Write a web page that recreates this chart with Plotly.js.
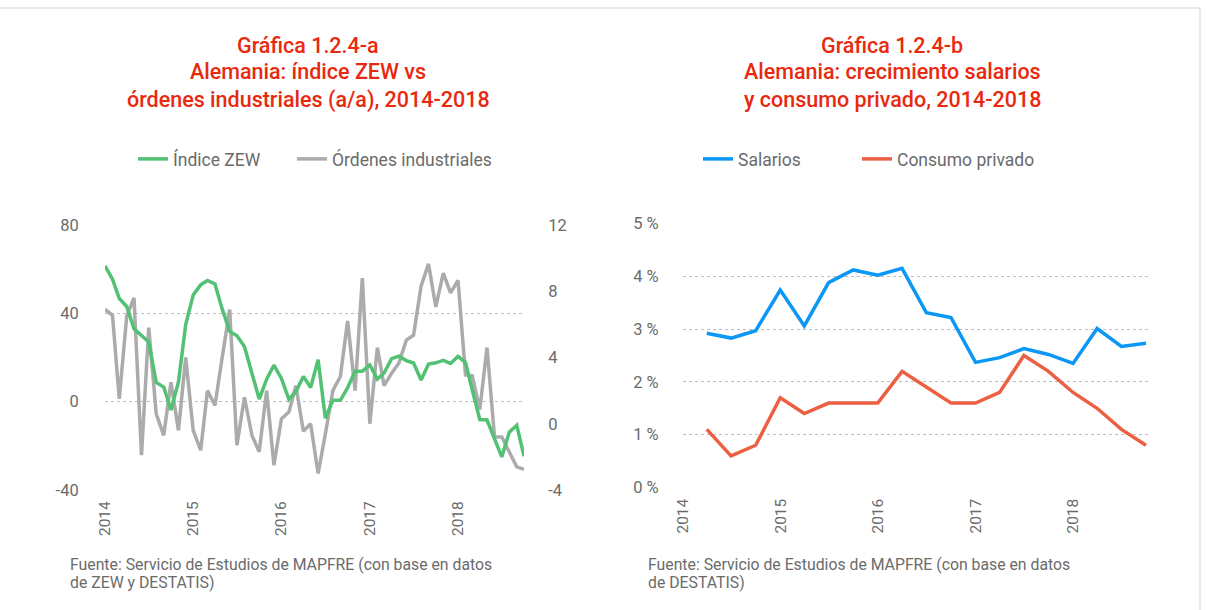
<!DOCTYPE html>
<html>
<head>
<meta charset="utf-8">
<script src="https://cdn.plot.ly/plotly-3.0.1.min.js"></script>
<style>
html,body{margin:0;padding:0;background:#fff;}
#chart{width:1206px;height:610px;}
</style>
</head>
<body>
<div id="chart"></div>
<script>
// ---- Data: Gráfica 1.2.4-a (monthly, Jan 2014 – Oct 2018) ----
const monthDates = [
 '2014-01-01','2014-02-01','2014-03-01','2014-04-01','2014-05-01','2014-06-01','2014-07-01','2014-08-01','2014-09-01','2014-10-01','2014-11-01','2014-12-01',
 '2015-01-01','2015-02-01','2015-03-01','2015-04-01','2015-05-01','2015-06-01','2015-07-01','2015-08-01','2015-09-01','2015-10-01','2015-11-01','2015-12-01',
 '2016-01-01','2016-02-01','2016-03-01','2016-04-01','2016-05-01','2016-06-01','2016-07-01','2016-08-01','2016-09-01','2016-10-01','2016-11-01','2016-12-01',
 '2017-01-01','2017-02-01','2017-03-01','2017-04-01','2017-05-01','2017-06-01','2017-07-01','2017-08-01','2017-09-01','2017-10-01','2017-11-01','2017-12-01',
 '2018-01-01','2018-02-01','2018-03-01','2018-04-01','2018-05-01','2018-06-01','2018-07-01','2018-08-01','2018-09-01','2018-10-01'
];
const indiceZEW = [
 61.5, 55.5, 46.7, 43.1, 33.0, 29.8, 27.1, 8.7, 6.6, -3.8, 8.9, 34.9,
 48.3, 52.9, 54.9, 53.3, 42.0, 31.8, 29.8, 25.0, 12.2, 1.2, 10.2, 16.5,
 10.5, 1.0, 4.6, 11.4, 6.4, 19.0, -7.5, 0.6, 0.6, 6.3, 13.8, 13.8,
 16.6, 10.2, 13.0, 19.5, 20.6, 18.6, 17.5, 9.8, 17.0, 17.6, 18.7, 17.3,
 20.5, 17.7, 5.3, -8.1, -8.3, -16.5, -25.0, -13.8, -10.7, -24.7
];
const ordenesIndustriales = [
 6.9, 6.55, 1.5, 6.5, 7.6, -1.9, 5.8, 0.6, -0.7, 2.5, -0.4, 4.0,
 -0.4, -1.6, 2.0, 1.1, 4.0, 6.9, -1.3, 1.6, -0.7, -1.7, 2.0, -2.5,
 0.3, 0.7, 2.3, -0.45, 0.0, -3.0, -0.6, 2.0, 2.85, 6.2, 2.0, 8.8,
 0.0, 4.6, 2.3, 3.05, 3.65, 5.05, 5.35, 8.3, 9.65, 7.05, 9.1, 7.9,
 8.65, 2.95, 2.9, 0.85, 4.6, -0.8, -0.8, -1.7, -2.6, -2.75
];
const yearTicks = ['2014-01-01','2015-01-01','2016-01-01','2017-01-01','2018-01-01'];
const yearLabels = ['2014','2015','2016','2017','2018'];
const zewTickVals = [-40, 0, 40, 80];
const zewTickText = ['-40', '0', '40', '80'];
const ordTickVals = [-4, 0, 4, 8, 12];
const ordTickText = ['-4', '0', '4', '8', '12'];

// ---- Data: Gráfica 1.2.4-b (quarterly, Q1 2014 – Q3 2018) ----
const quarterDates = [
 '2014-03-31','2014-06-30','2014-09-30','2014-12-31',
 '2015-03-31','2015-06-30','2015-09-30','2015-12-31',
 '2016-03-31','2016-06-30','2016-09-30','2016-12-31',
 '2017-03-31','2017-06-30','2017-09-30','2017-12-31',
 '2018-03-31','2018-06-30','2018-09-30'
];
const salarios = [2.92, 2.83, 2.97, 3.74, 3.06, 3.88, 4.12, 4.02, 4.15, 3.31, 3.22, 2.37, 2.46, 2.63, 2.52, 2.35, 3.01, 2.67, 2.73];
const consumoPrivado = [1.1, 0.6, 0.8, 1.7, 1.4, 1.6, 1.6, 1.6, 2.2, 1.9, 1.6, 1.6, 1.8, 2.5, 2.2, 1.8, 1.5, 1.1, 0.8];
const pctTickVals = [0, 1, 2, 3, 4, 5];
const pctTickText = ['0 %', '1 %', '2 %', '3 %', '4 %', '5 %'];

// ---- Texts ----
const titleA = ['Gráfica 1.2.4-a', 'Alemania: índice ZEW vs', 'órdenes industriales (a/a), 2014-2018'];
const titleB = ['Gráfica 1.2.4-b', 'Alemania: crecimiento salarios', 'y consumo privado, 2014-2018'];
const sourceA = ['Fuente: Servicio de Estudios de MAPFRE (con base en datos', 'de ZEW y DESTATIS)'];
const sourceB = ['Fuente: Servicio de Estudios de MAPFRE (con base en datos', 'de DESTATIS)'];

// ---- Styling helpers ----
const W = 1206, H = 610;
const px = v => v / W;
const py = v => 1 - v / H;
const FONT = 'Roboto, "Noto Sans", sans-serif';
const GREY_TXT = '#6b6b6b';
const RED = '#E8290F';

const traces = [
  { x: monthDates, y: ordenesIndustriales, name: 'Órdenes industriales', type: 'scatter', mode: 'lines',
    xaxis: 'x', yaxis: 'y', line: {color: '#ababab', width: 3.5}, legend: 'legend2' },
  { x: monthDates, y: indiceZEW, name: 'Índice ZEW', type: 'scatter', mode: 'lines',
    xaxis: 'x', yaxis: 'y2', line: {color: '#52c174', width: 3.5}, legend: 'legend' },
  { x: quarterDates, y: salarios, name: 'Salarios', type: 'scatter', mode: 'lines',
    xaxis: 'x2', yaxis: 'y3', line: {color: '#0a97f5', width: 3.5}, legend: 'legend3' },
  { x: quarterDates, y: consumoPrivado, name: 'Consumo privado', type: 'scatter', mode: 'lines',
    xaxis: 'x2', yaxis: 'y3', line: {color: '#ec5f43', width: 3.5}, legend: 'legend4' }
];

const tickFont = {family: FONT, size: 16.5, color: GREY_TXT};
const xCommon = {
  type: 'date', tickmode: 'array', tickvals: yearTicks, ticktext: yearLabels, tickangle: -90,
  showgrid: false, zeroline: false, showline: false,
  ticks: 'outside', ticklen: 4, tickcolor: 'rgba(0,0,0,0)',
  tickfont: {family: FONT, size: 15.5, color: GREY_TXT}
};
const gridCommon = {showgrid: true, gridcolor: '#bdbdbd', griddash: 'dot', gridwidth: 1, zeroline: false, showline: false};

const annotations = [];
const titleY = [46, 72, 100];
const titleFont = {family: FONT, size: 21.5, color: RED, weight: 500};
titleA.forEach((t, i) => annotations.push({
  text: t, xref: 'paper', yref: 'paper', x: px(308), y: py(titleY[i]),
  xanchor: 'center', yanchor: 'middle', showarrow: false, font: titleFont
}));
titleB.forEach((t, i) => annotations.push({
  text: t, xref: 'paper', yref: 'paper', x: px(892), y: py(titleY[i]),
  xanchor: 'center', yanchor: 'middle', showarrow: false, font: titleFont
}));
const srcFont = {family: FONT, size: 15.8, color: GREY_TXT};
sourceA.forEach((t, i) => annotations.push({
  text: t, xref: 'paper', yref: 'paper', x: px(68), y: py([564, 582][i]),
  xanchor: 'left', yanchor: 'middle', showarrow: false, font: srcFont
}));
sourceB.forEach((t, i) => annotations.push({
  text: t, xref: 'paper', yref: 'paper', x: px(646), y: py([564, 582][i]),
  xanchor: 'left', yanchor: 'middle', showarrow: false, font: srcFont
}));

const legendBase = {orientation: 'h', y: py(159), xanchor: 'left', yanchor: 'middle',
  font: {family: FONT, size: 17.5, color: GREY_TXT}, bgcolor: 'rgba(0,0,0,0)',
  itemclick: false, itemdoubleclick: false};

const layout = {
  width: W, height: H,
  margin: {l: 0, r: 0, t: 0, b: 0},
  paper_bgcolor: '#ffffff', plot_bgcolor: 'rgba(0,0,0,0)',
  font: {family: FONT, color: GREY_TXT},
  showlegend: true,
  xaxis: Object.assign({}, xCommon, {domain: [px(105), px(524)], anchor: 'y', range: ['2014-01-01', '2018-10-01']}),
  yaxis: {domain: [py(490), py(225)], anchor: 'x', side: 'right', range: [-4, 12],
          tickmode: 'array', tickvals: ordTickVals, ticktext: ordTickText,
          showgrid: false, zeroline: false, showline: false,
          ticks: 'outside', ticklen: 20, tickcolor: 'rgba(0,0,0,0)', tickfont: tickFont},
  yaxis2: Object.assign({}, gridCommon, {overlaying: 'y', anchor: 'x', side: 'left', range: [-40, 80],
          tickmode: 'array', tickvals: zewTickVals, ticktext: zewTickText,
          ticks: 'outside', ticklen: 22, tickcolor: 'rgba(0,0,0,0)', tickfont: tickFont}),
  xaxis2: Object.assign({}, xCommon, {domain: [px(683), px(1150)], anchor: 'y3', range: ['2014-01-01', '2018-10-15']}),
  yaxis3: Object.assign({}, gridCommon, {domain: [py(487.5), py(223.5)], anchor: 'x2', range: [0, 5],
          tickmode: 'array', tickvals: pctTickVals, ticktext: pctTickText,
          ticks: 'outside', ticklen: 20, tickcolor: 'rgba(0,0,0,0)', tickfont: tickFont}),
  legend:  Object.assign({}, legendBase, {x: px(133)}),
  legend2: Object.assign({}, legendBase, {x: px(292)}),
  legend3: Object.assign({}, legendBase, {x: px(698)}),
  legend4: Object.assign({}, legendBase, {x: px(857)}),
  annotations: annotations,
  shapes: [
    {type: 'line', xref: 'paper', yref: 'paper', x0: px(0), x1: px(1200), y0: py(8), y1: py(8), line: {color: '#d2d2d2', width: 1}},
    {type: 'line', xref: 'paper', yref: 'paper', x0: px(1200), x1: px(1200), y0: py(8), y1: py(610), line: {color: '#d2d2d2', width: 1}}
  ]
};

Plotly.newPlot('chart', traces, layout, {displayModeBar: false, staticPlot: true});
</script>
</body>
</html>
